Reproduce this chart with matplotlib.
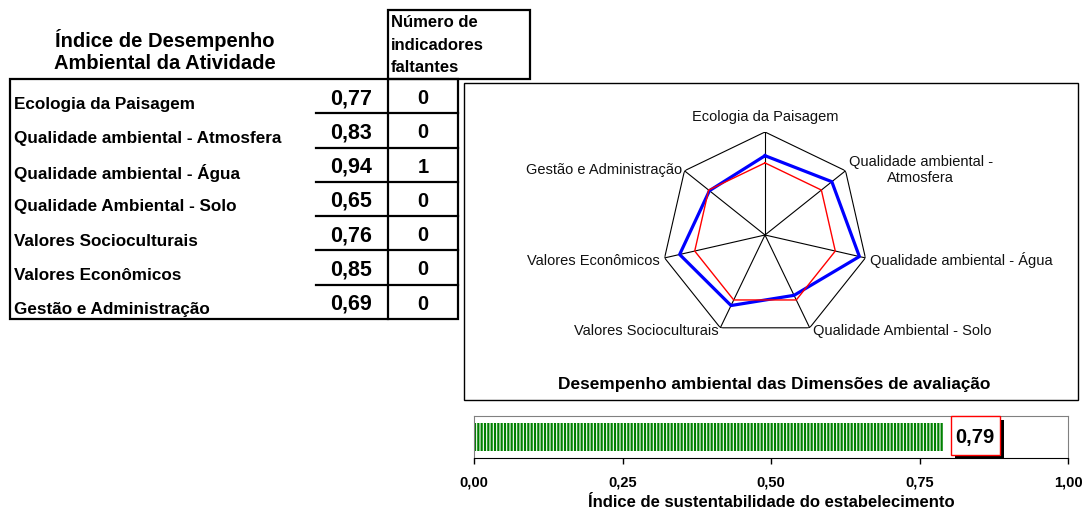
import numpy as np
import matplotlib
matplotlib.use("Agg")
from matplotlib import pyplot as plt
from matplotlib.patches import Rectangle

plt.rcParams['font.family'] = ['Liberation Sans', 'DejaVu Sans']

# dados
dimensoes = ["Ecologia da Paisagem", "Qualidade ambiental - Atmosfera",
             "Qualidade ambiental - Água", "Qualidade Ambiental - Solo",
             "Valores Socioculturais", "Valores Econômicos",
             "Gestão e Administração"]
rotulos_radar = ["Ecologia da Paisagem", "Qualidade ambiental -\nAtmosfera",
                 "Qualidade ambiental - Água", "Qualidade Ambiental - Solo",
                 "Valores Socioculturais", "Valores Econômicos",
                 "Gestão e Administração"]
indices = [0.77, 0.83, 0.94, 0.65, 0.76, 0.85, 0.69]
faltantes = [0, 0, 1, 0, 0, 0, 0]
linha_base = [0.70, 0.70, 0.70, 0.70, 0.70, 0.70, 0.70]
indice_geral = 0.79
ticks_barra = [0.0, 0.25, 0.50, 0.75, 1.0]


def virgula(v):
    return f"{v:.2f}".replace(".", ",")


W, H = 1082, 510
fig = plt.figure(figsize=(W / 100, H / 100), dpi=100)

# fundo em coordenadas de pixel para a tabela
bg = fig.add_axes([0, 0, 1, 1])
bg.set_xlim(0, W)
bg.set_ylim(H, 0)
bg.axis("off")

lw = 1.6
bg.text(165, 51, "Índice de Desempenho\nAmbiental da Atividade", ha="center",
        va="center", fontsize=14.5, fontweight="bold", linespacing=1.22)
bg.add_patch(Rectangle((388, 11), 142, 69, fill=False, lw=lw, ec="black"))
bg.text(391, 45, "Número de\nindicadores\nfaltantes", ha="left", va="center",
        fontsize=12, fontweight="bold", linespacing=1.6)

top, row_h = 80, 240 / 7
bg.add_patch(Rectangle((10, top), 448, 240, fill=False, lw=lw, ec="black"))
bg.plot([388, 388], [top, top + 240], color="black", lw=lw)
for i, (nome, v, n) in enumerate(zip(dimensoes, indices, faltantes)):
    y0 = top + i * row_h
    if i > 0:
        bg.plot([316, 458], [y0, y0], color="black", lw=lw)
    bg.text(14, y0 + 24, nome, ha="left", va="center", fontsize=12.3, fontweight="bold")
    bg.text(372, y0 + 18.5, virgula(v), ha="right", va="center", fontsize=15.5, fontweight="bold")
    bg.text(423, y0 + 18.5, str(n), ha="center", va="center", fontsize=14.5, fontweight="bold")

# caixa do grafico radar
bg.add_patch(Rectangle((464, 84), 614, 317, fill=False, lw=1.0, ec="black"))
bg.text(774, 385, "Desempenho ambiental das Dimensões de avaliação", ha="center",
        va="center", fontsize=12.4, fontweight="bold")

# radar
cx, cy, r = 765, 236, 103
ax = fig.add_axes([(cx - r) / W, (H - cy - r) / H, 2 * r / W, 2 * r / H], projection="polar")
ax.set_theta_offset(np.pi / 2)
ax.set_theta_direction(-1)
ax.set_ylim(0, 1)
ax.grid(False)
ax.spines["polar"].set_visible(False)
ax.set_xticks([])
ax.set_yticks([])
ax.patch.set_alpha(0)

ang = np.linspace(0, 2 * np.pi, len(dimensoes), endpoint=False)
ang_c = np.append(ang, ang[0])
ax.plot(ang_c, np.ones(len(ang_c)), color="black", lw=0.8)
for t in ang:
    ax.plot([t, t], [0, 1], color="black", lw=0.8)
ax.plot(ang_c, indices + indices[:1], color="#0000FF", lw=2.3)
ax.plot(ang_c, linha_base + linha_base[:1], color="#FF0000", lw=1.0)

offsets = [(0, 16, "center"), (3, 2, "left"), (5, -1, "left"), (3, -2, "left"),
           (-2, -2, "right"), (-5, -2, "right"), (-2, 2, "right")]
for t, lab, (dx, dy, ha) in zip(ang, rotulos_radar, offsets):
    ax.annotate(lab, xy=(t, 1), xytext=(dx, dy), textcoords="offset pixels",
                ha=ha, va="center", multialignment="center", fontsize=10.5,
                color="#111111", annotation_clip=False)

# barra do indice geral
bx = fig.add_axes([474 / W, (H - 459) / H, 594 / W, 42 / H])
plt.rcParams['hatch.linewidth'] = 1.6
bx.barh(0, indice_geral, height=1.0, color="white", edgecolor="#008000", hatch="|||||", lw=0)
bx.set_xlim(0, 1)
bx.set_ylim(-0.75, 0.75)
bx.set_yticks([])
bx.set_xticks(ticks_barra)
bx.set_xticklabels([virgula(t) for t in ticks_barra], fontsize=10.5, fontweight="bold")
bx.tick_params(axis="x", direction="out", length=4, width=1, pad=8)
for s in ["top", "right", "left"]:
    bx.spines[s].set_color("#808080")
bx.spines["bottom"].set_color("black")
bx.set_xlabel("Índice de sustentabilidade do estabelecimento", fontsize=12,
              fontweight="bold", labelpad=4)

trans = bx.get_xaxis_transform()
x0 = indice_geral + 0.013
bx.add_patch(Rectangle((x0 + 0.006, -0.02), 0.0825, 0.93, transform=trans,
                       facecolor="black", lw=0, clip_on=False, zorder=4))
bx.add_patch(Rectangle((x0, 0.07), 0.0825, 0.93, transform=trans,
                       facecolor="white", edgecolor="#FF0000", lw=1.0, clip_on=False, zorder=5))
bx.text(x0 + 0.041, 0.52, virgula(indice_geral), transform=trans, ha="center",
        va="center", fontsize=14.5, fontweight="bold", zorder=6)

fig.savefig("out.png", dpi=100)
